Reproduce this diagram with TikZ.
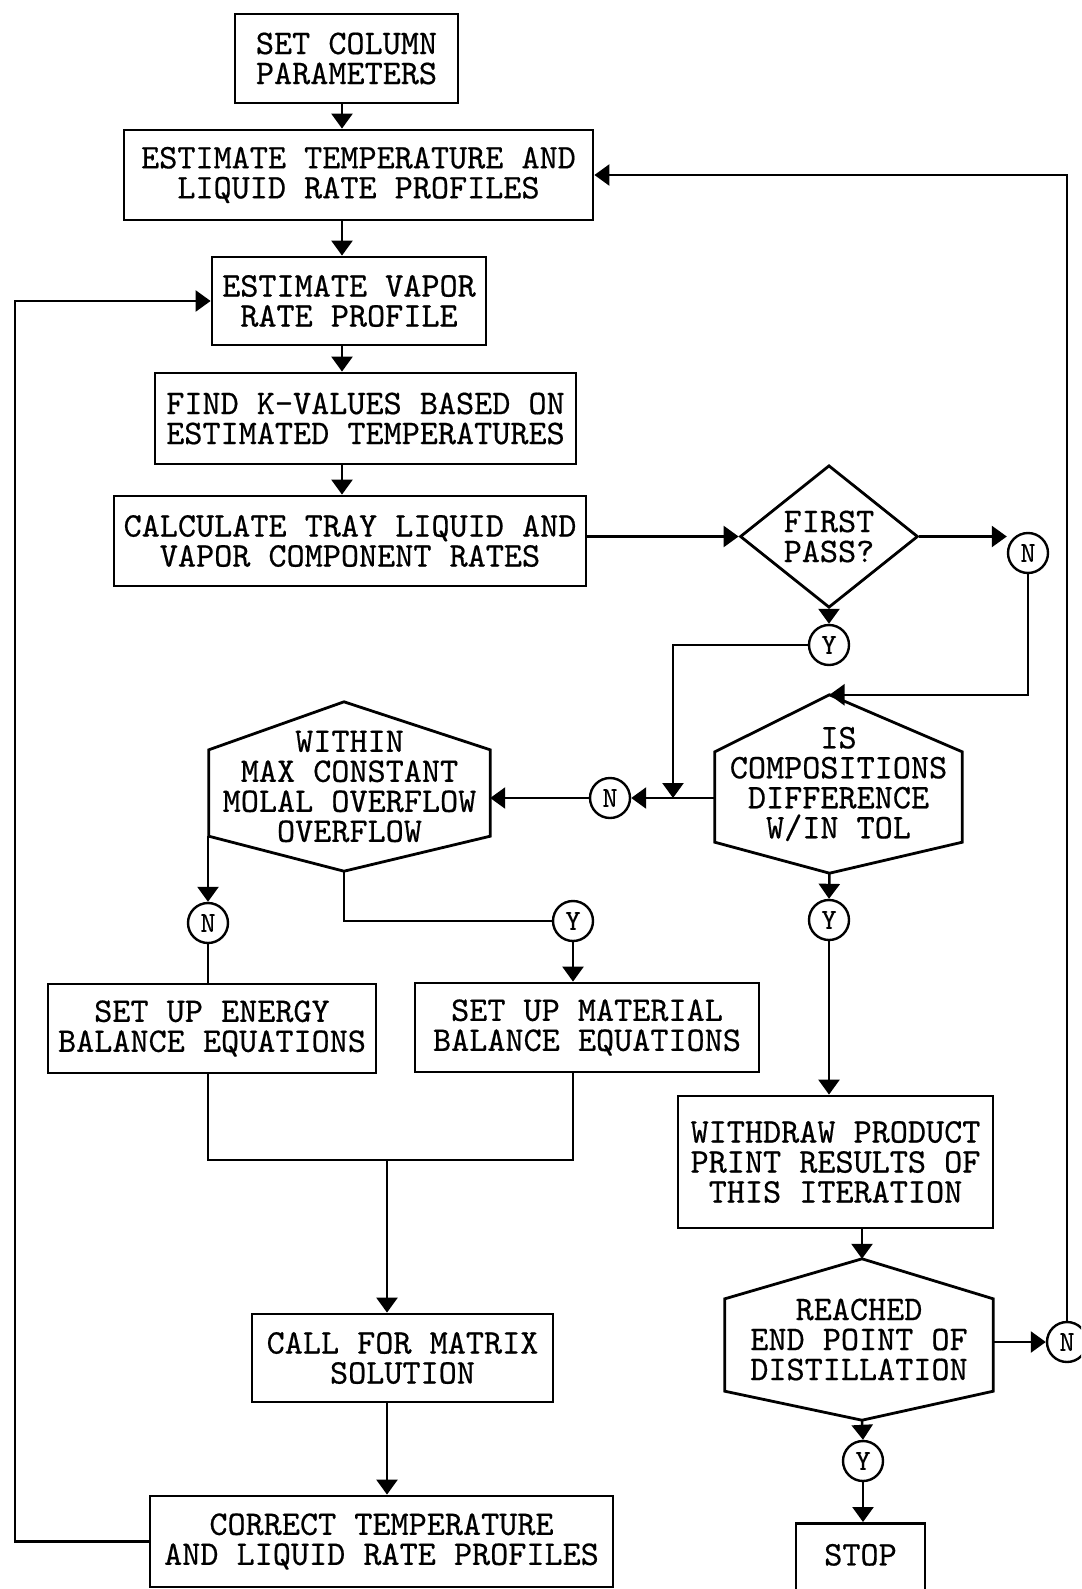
\documentclass[tikz,border=0pt]{standalone}
\usepackage{fontspec}
\newfontfamily\tw{lmmono10-regular.otf}[FakeBold=0.5]
\usetikzlibrary{arrows.meta,shapes.geometric}
\tikzset{
  shapeline/.style={line width=2.8pt},
  txt/.style={align=center, inner sep=0pt, font=\tw\fontsize{34.5pt}{30pt}\selectfont},
  procbox/.style={draw, shapeline, rectangle, txt},
  hexnode/.style={rectangle, txt},
  decide/.style={draw, shapeline, diamond, txt},
  ynode/.style={draw, circle, line width=2.4pt, minimum size=40pt, inner sep=0pt,
    font=\tw\fontsize{29pt}{29pt}\selectfont},
  plain/.style={line width=2.5pt},
  flow/.style={plain, -{Triangle[length=15pt,width=21pt]}}
}
\newcommand\hexframe[4]{%
  \draw[shapeline] ([xshift=#4pt]#1.north) coordinate (#1-top)
    -- ([yshift=-#2pt]#1.north east) -- ([yshift=#3pt]#1.south east)
    -- ([xshift=#4pt]#1.south) coordinate (#1-bot)
    -- ([yshift=#3pt]#1.south west) coordinate (#1-ll)
    -- ([yshift=-#2pt]#1.north west) -- cycle;}
\begin{document}
\begin{tikzpicture}[x=1pt,y=-1pt]
\useasboundingbox (0,0) rectangle (1081,1589);
\fill[white] (0,0) rectangle (1081,1589);
\clip (0,0) rectangle (1081,1589);

% main column
\node[procbox, minimum width=223pt, minimum height=89pt] (B1) at (346.5,58.5) {SET COLUMN\\PARAMETERS};
\node[procbox, minimum width=469pt, minimum height=90pt] (B2) at (358.5,175) {ESTIMATE TEMPERATURE AND\\LIQUID RATE PROFILES};
\node[procbox, minimum width=274pt, minimum height=88pt] (B3) at (349,301) {ESTIMATE VAPOR\\RATE PROFILE};
\node[procbox, minimum width=421pt, minimum height=91pt] (B4) at (365.5,418.5) {FIND K-VALUES BASED ON\\ESTIMATED TEMPERATURES};
\node[procbox, minimum width=472pt, minimum height=90pt] (B5) at (350,541) {CALCULATE TRAY LIQUID AND\\VAPOR COMPONENT RATES};

% decision diamond
\node[decide, minimum width=178pt, minimum height=133pt] (FP) at (829,536.5) {FIRST\\PASS?};
\node[ynode] (N1) at (1028,553) {N};
\node[ynode] (Y1) at (829,645) {Y};

% hexagons
\node[hexnode, minimum width=247pt, minimum height=178pt] (IS) at (838.5,784) {IS\\COMPOSITIONS\\DIFFERENCE\\W/IN TOL};
\hexframe{IS}{57}{31}{-9}
\node[ynode] (N2) at (610,798) {N};
\node[hexnode, minimum width=281pt, minimum height=169pt] (WI) at (349.5,786.5) {WITHIN\\MAX CONSTANT\\MOLAL OVERFLOW\\OVERFLOW};
\hexframe{WI}{48}{35}{-5.5}
\node[ynode] (N3) at (208,923) {N};
\node[ynode] (Y3) at (573,921) {Y};
\node[ynode] (Y4) at (829,920) {Y};

% lower left
\node[procbox, minimum width=328pt, minimum height=89pt] (EN) at (212,1028.5) {SET UP ENERGY\\BALANCE EQUATIONS};
\node[procbox, minimum width=344pt, minimum height=89pt] (MA) at (587,1027.5) {SET UP MATERIAL\\BALANCE EQUATIONS};
\node[procbox, minimum width=301pt, minimum height=88pt] (CALL) at (402.5,1358) {CALL FOR MATRIX\\SOLUTION};
\node[procbox, minimum width=463pt, minimum height=91pt] (CORR) at (381.5,1541.5) {CORRECT TEMPERATURE\\AND LIQUID RATE PROFILES};

% lower right
\node[procbox, minimum width=315pt, minimum height=132pt] (WD) at (835.5,1162) {WITHDRAW PRODUCT\\PRINT RESULTS OF\\THIS ITERATION};
\node[hexnode, minimum width=268pt, minimum height=161pt] (RE) at (859,1339.5) {REACHED\\END POINT OF\\DISTILLATION};
\hexframe{RE}{40}{29}{3}
\node[ynode] (N5) at (1067,1342) {N};
\node[ynode] (Y5) at (863,1461) {Y};
\node[procbox, minimum width=129pt, text height=21pt, text depth=60pt, inner ysep=21pt, anchor=north] (STOP) at (860.5,1522) {STOP};

% helper coordinates
\coordinate (col) at (342,0);
\coordinate (lft) at (15,0);
\coordinate (rgt) at (1067,0);
\coordinate (j1) at (673,0);
\coordinate (join) at (387,1160);

% connectors
\draw[flow] (col |- B1.south) -- (col |- B2.north);
\draw[flow] (col |- B2.south) -- (col |- B3.north);
\draw[flow] (col |- B3.south) -- (col |- B4.north);
\draw[flow] (col |- B4.south) -- (col |- B5.north);
\draw[flow] (B5.east |- FP.west) -- (FP.west);
\draw[flow] (FP.east) -- (FP.east -| N1.west);
\draw[flow] (FP.south) -- (Y1.north);
\draw[flow] (N1.south) |- (IS-top);
\draw[flow] (Y1.west) -| (j1 |- N2);
\draw[flow] (IS.west |- N2) -- (N2.east);
\draw[flow] (N2.west) -- (N2.west -| WI.east);
\draw[flow] (N3.north |- WI-ll) -- (N3.north);
\draw[plain] (WI-bot) |- (Y3.west);
\draw[flow] (Y3.south) -- (Y3.south |- MA.north);
\draw[plain] (N3.south) -- (N3.south |- EN.north);
\draw[plain] (N3 |- EN.south) |- (Y3 |- join) -- (Y3 |- MA.south);
\draw[flow] (join) -- (join |- CALL.north);
\draw[flow] (join |- CALL.south) -- (join |- CORR.north);
\draw[flow] (CORR.west) -| (lft |- B3.west) -- (B3.west);
\draw[flow] (IS-bot) -- (Y4.north);
\draw[flow] (Y4.south) -- (Y4.south |- WD.north);
\draw[flow] (RE-top |- WD.south) -- (RE-top);
\draw[flow] (RE.east |- N5.west) -- (N5.west);
\draw[flow] (N5.north) -- (rgt |- B2.east) -- (B2.east);
\draw[flow] (RE-bot) -- (Y5.north);
\draw[flow] (Y5.south) -- (Y5.south |- STOP.north);
\end{tikzpicture}
\end{document}
